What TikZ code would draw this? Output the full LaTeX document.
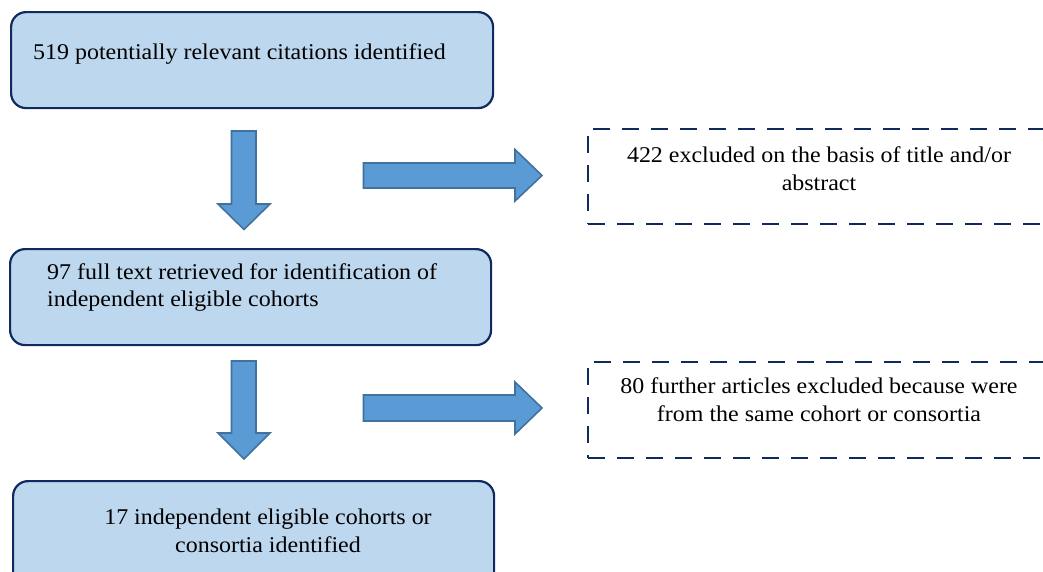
\documentclass[tikz,border=0pt]{standalone}
\usepackage{fontspec}
\setmainfont{Liberation Serif}[FakeStretch=1.065]
\definecolor{boxfill}{HTML}{BDD7EE}
\definecolor{navy}{HTML}{10295E}
\definecolor{arrfill}{HTML}{5B9BD5}
\definecolor{arrline}{HTML}{41719C}
\tikzset{
  solidbox/.style={draw=navy, line width=2.2pt, fill=boxfill, rounded corners=15pt, inner sep=0pt, anchor=north west},
  dashbox/.style={draw=navy, line width=2.4pt, dash pattern=on 17pt off 12pt, inner sep=0pt, anchor=north west},
  txt/.style={inner sep=0pt, font=\fontsize{22.5}{27}\selectfont, text=black},
  blockarrow/.style={draw=arrline, line width=1.6pt, fill=arrfill, line join=miter},
}
\begin{document}
\begin{tikzpicture}[x=1pt,y=-1pt]
\useasboundingbox (0,0) rectangle (1043,571);
\clip (0,0) rectangle (1043,571);
% solid boxes
\node[solidbox, minimum width=482pt, minimum height=96pt] (b1) at (10,11) {};
\node[solidbox, minimum width=481pt, minimum height=96pt] (b2) at (9,248) {};
\node[solidbox, minimum width=481pt, minimum height=110pt] (b3) at (12,480) {};
% dashed boxes
\node[dashbox, minimum width=500pt, minimum height=95pt] (d1) at (587,128) {};
\node[dashbox, minimum width=500pt, minimum height=96pt] (d2) at (587,361) {};
% texts
\node[txt, anchor=base west] (t1) at (33,59) {519 potentially relevant citations identified};
\node[txt, anchor=base west] (t2a) at (47,279) {97 full text retrieved for identification of};
\node[txt, anchor=base west] (t2b) at (47,306) {independent eligible cohorts};
\node[txt, anchor=base] (t3a) at (268,524) {17 independent eligible cohorts or};
\node[txt, anchor=base] (t3b) at (268,552) {consortia identified};
\node[txt, anchor=base] (d1a) at (819,162) {422 excluded on the basis of title and/or};
\node[txt, anchor=base] (d1b) at (819,190) {abstract};
\node[txt, anchor=base] (d2a) at (819,393) {80 further articles excluded because were};
\node[txt, anchor=base] (d2b) at (819,421) {from the same cohort or consortia};
% down arrows
\draw[blockarrow] (231.5,131) -- (256,131) -- (256,204) -- (270,204) -- (244,229.5) -- (218,204) -- (231.5,204) -- cycle;
\draw[blockarrow] (231.5,361) -- (256,361) -- (256,433) -- (270,433) -- (244,459) -- (218,433) -- (231.5,433) -- cycle;
% right arrows
\draw[blockarrow] (363.5,163) -- (515,163) -- (515,149.5) -- (542,175.5) -- (515,201) -- (515,188) -- (363.5,188) -- cycle;
\draw[blockarrow] (363.5,395) -- (515,395) -- (515,382) -- (542,408) -- (515,434) -- (515,421) -- (363.5,421) -- cycle;
\end{tikzpicture}
\end{document}
